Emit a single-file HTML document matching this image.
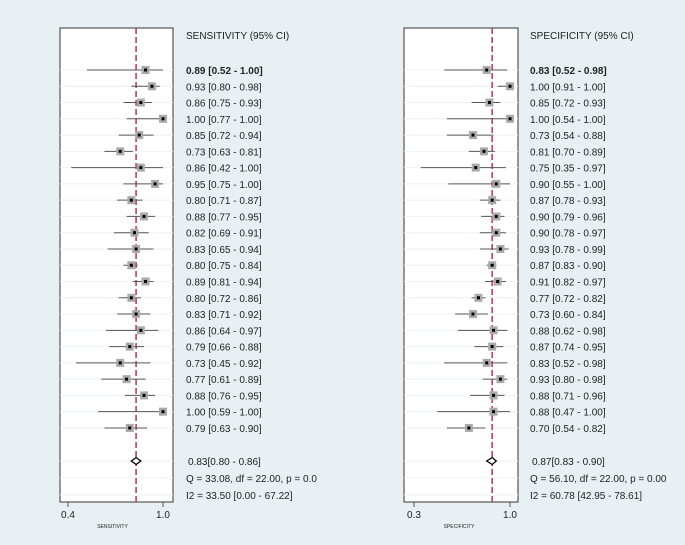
<!DOCTYPE html>
<html><head><meta charset="utf-8"><style>
body{margin:0;background:#e9f0f3;}
svg{display:block;font-family:"Liberation Sans",sans-serif;}
</style></head><body>
<svg id="chart" width="685" height="545"></svg>
<script>
const sensEst=[0.89,0.93,0.86,1.00,0.85,0.73,0.86,0.95,0.80,0.88,0.82,0.83,0.80,0.89,0.80,0.83,0.86,0.79,0.73,0.77,0.88,1.00,0.79];
const sensLo=[0.52,0.80,0.75,0.77,0.72,0.63,0.42,0.75,0.71,0.77,0.69,0.65,0.75,0.81,0.72,0.71,0.64,0.66,0.45,0.61,0.76,0.59,0.63];
const sensHi=[1.00,0.98,0.93,1.00,0.94,0.81,1.00,1.00,0.87,0.95,0.91,0.94,0.84,0.94,0.86,0.92,0.97,0.88,0.92,0.89,0.95,1.00,0.90];
const specEst=[0.83,1.00,0.85,1.00,0.73,0.81,0.75,0.90,0.87,0.90,0.90,0.93,0.87,0.91,0.77,0.73,0.88,0.87,0.83,0.93,0.88,0.88,0.70];
const specLo=[0.52,0.91,0.72,0.54,0.54,0.70,0.35,0.55,0.78,0.79,0.78,0.78,0.83,0.82,0.72,0.60,0.62,0.74,0.52,0.80,0.71,0.47,0.54];
const specHi=[0.98,1.00,0.93,1.00,0.88,0.89,0.97,1.00,0.93,0.96,0.97,0.99,0.90,0.97,0.82,0.84,0.98,0.95,0.98,0.98,0.96,1.00,0.82];
const sensSummary=[0.83,0.80,0.86];
const specSummary=[0.87,0.83,0.90];
const sensStats=["Q = 33.08, df = 22.00, p =  0.0","I2 = 33.50 [0.00 - 67.22]"];
const specStats=["Q = 56.10, df = 22.00, p =  0.00","I2 = 60.78 [42.95 - 78.61]"];

const NS="http://www.w3.org/2000/svg";
const svg=document.getElementById('chart');
function mk(tag,attrs,parent){const e=document.createElementNS(NS,tag);for(const k in attrs)e.setAttribute(k,attrs[k]);(parent||svg).appendChild(e);return e;}
const rowY=i=>70+i*16.27;
const f2=v=>v.toFixed(2);

function panel(cfg){
  const g=mk('g',{});
  
  
  const x=v=>cfg.x0+(v-cfg.min)*(cfg.x1-cfg.x0)/(cfg.max-cfg.min);
  const box=mk('rect',{x:cfg.bx0,y:28,width:cfg.bx1-cfg.bx0,height:474,fill:'#fff',stroke:'#555','stroke-width':1.2},g);
  
  
  const ys=[...cfg.est.map((_,i)=>rowY(i)),461,478,495];
  ys.forEach(y=>mk('line',{x1:cfg.bx0,x2:cfg.bx1,y1:y,y2:y,stroke:'#eef2f5','stroke-width':1},g));
  const ref=mk('line',{x1:x(cfg.sum[0]),x2:x(cfg.sum[0]),y1:28,y2:502,stroke:'#c0305a','stroke-width':1.5,'stroke-dasharray':'6,3'},g);
  
  
  cfg.est.forEach((v,i)=>{
    const y=rowY(i);
    const l=mk('line',{x1:x(cfg.lo[i]),x2:x(cfg.hi[i]),y1:y,y2:y,stroke:'#555','stroke-width':1},g);
    
    
    const r=mk('rect',{x:x(v)-4,y:y-4,width:8,height:8,fill:'#aaa'},g);
    
    
    mk('rect',{x:x(v)-1.5,y:y-1.5,width:3,height:3,fill:'#000'},g);
    const t=mk('text',{x:cfg.tx,y:y+4,'font-size':10,fill:'#222','font-weight':i===0?'bold':'normal'},g);
    t.textContent=f2(v)+' ['+f2(cfg.lo[i])+' - '+f2(cfg.hi[i])+']';
    
    
  });
  const sx=x(cfg.sum[0]),sy=461;
  const d=mk('path',{d:`M${x(cfg.sum[1])},${sy} L${sx},${sy-3.5} L${x(cfg.sum[2])},${sy} L${sx},${sy+3.5} Z`,fill:'#fff',stroke:'#000','stroke-width':1.3},g);
  
  
  const hd=mk('text',{x:cfg.tx,y:39,'font-size':10,fill:'#222'},g);
  hd.textContent=cfg.title;
  
  
  const st=mk('text',{x:cfg.tx+2,y:sy+4,'font-size':10,fill:'#222'},g);
  st.textContent=f2(cfg.sum[0])+'['+f2(cfg.sum[1])+' - '+f2(cfg.sum[2])+']';
  
  
  cfg.stats.forEach((s,k)=>{
    const t=mk('text',{x:cfg.tx,y:(k?495:478)+4,'font-size':10,fill:'#222'},g);
    t.textContent=s;
    
    
  });
  if(cfg.clip){ /* clip text like reference */ }
  [cfg.min,cfg.max].forEach(v=>{
    mk('line',{x1:x(v),x2:x(v),y1:502,y2:507,stroke:'#555'},g);
    const t=mk('text',{x:x(v),y:518,'font-size':10,fill:'#222','text-anchor':'middle'},g);
    t.textContent=v.toFixed(1);
    
    
  });
  const at=mk('text',{x:(cfg.x0+cfg.x1)/2-3,y:528,'font-size':5,fill:'#222','text-anchor':'middle'},g);
  at.textContent=cfg.title.split(' ')[0];
  
  
}
panel({name:'sensitivity',title:'SENSITIVITY (95% CI)',min:0.4,max:1.0,x0:68,x1:163,bx0:60,bx1:173,tx:186,est:sensEst,lo:sensLo,hi:sensHi,sum:sensSummary,stats:sensStats});
panel({name:'specificity',title:'SPECIFICITY (95% CI)',min:0.3,max:1.0,x0:414,x1:510,bx0:404,bx1:518,tx:530,est:specEst,lo:specLo,hi:specHi,sum:specSummary,stats:specStats});
</script>
</body></html>
